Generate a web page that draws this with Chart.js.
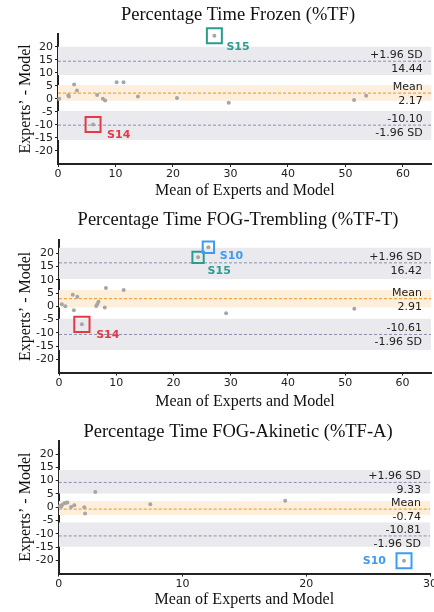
<!DOCTYPE html>
<html><head><meta charset="utf-8">
<script src="https://cdn.jsdelivr.net/npm/chart.js@4/dist/chart.umd.min.js"></script>
<style>
html,body{margin:0;padding:0;background:#fff;}
body{width:434px;height:612px;position:relative;overflow:hidden;}
.panel{position:absolute;left:0;width:434px;}
</style></head><body>
<div class="panel" style="top:0;height:202px"><canvas id="c1"></canvas></div>
<div class="panel" style="top:200px;height:212px"><canvas id="c2"></canvas></div>
<div class="panel" style="top:400px;height:212px"><canvas id="c3"></canvas></div>
<script>
// ---------- DATA ----------
const yRange = [-25, 25];
const yTicks = [-20, -15, -10, -5, 0, 5, 10, 15, 20];
const xTitle = 'Mean of Experts and Model';
const yTitle = 'Experts\u2019 - Model';

// Panel 1: %TF
const tfTitle = 'Percentage Time Frozen (%TF)';
const tfMean = [0.2, 1.8, 1.9, 2.8, 3.3, 6.1, 6.8, 7.8, 8.2, 10.2, 11.4, 13.9, 20.7, 27.2, 29.7, 51.5, 53.6];
const tfDiff = [0.0, 1.4, 0.9, 5.5, 3.2, -9.8, 1.5, 0.0, -0.6, 6.4, 6.4, 0.9, 0.3, 24.2, -1.5, -0.4, 1.2];
const tfStats = [14.44, 2.17, -10.10];        // +1.96 SD, mean, -1.96 SD
const tfUpperBand = [9.15, 20.0];
const tfMeanBand = [-0.7, 5.3];
const tfLowerBand = [-15.8, -4.66];
const tfXRange = [0, 65];
const tfXTicks = [0, 10, 20, 30, 40, 50, 60];
const tfHighlight = ['S15', 'S14'];
const tfHighlightIdx = [13, 5];

// Panel 2: %TF-T
const ttTitle = 'Percentage Time FOG-Trembling (%TF-T)';
const ttMean = [0.5, 1.1, 2.4, 2.6, 3.2, 4.0, 6.5, 6.7, 6.9, 8.0, 8.2, 11.3, 24.3, 26.1, 29.2, 51.6];
const ttDiff = [0.75, 0.0, 4.4, -1.5, 3.6, -6.8, 0.1, 0.9, 1.7, -0.4, 6.9, 6.2, 18.5, 22.3, -2.6, -0.9];
const ttStats = [16.42, 2.91, -10.61];
const ttUpperBand = [10.3, 22.1];
const ttMeanBand = [-0.4, 6.15];
const ttLowerBand = [-16.5, -4.7];
const ttXRange = [0, 65];
const ttXTicks = [0, 10, 20, 30, 40, 50, 60];
const ttHighlight = ['S10', 'S15', 'S14'];
const ttHighlightIdx = [13, 12, 5];

// Panel 3: %TF-A
const taTitle = 'Percentage Time FOG-Akinetic (%TF-A)';
const taMean = [0.1, 0.2, 0.27, 0.45, 0.6, 0.7, 1.0, 1.26, 2.07, 2.13, 2.96, 7.4, 18.3, 27.9];
const taDiff = [0.45, 0.2, 0.8, 1.5, 1.7, 1.8, 0.1, 0.7, 0.0, -2.4, 5.7, 1.1, 2.4, -20.2];
const taStats = [9.33, -0.74, -10.81];
const taUpperBand = [5.2, 14.0];
const taMeanBand = [-2.9, 2.3];
const taLowerBand = [-14.9, -5.8];
const taXRange = [0, 30];
const taXTicks = [0, 10, 20, 30];
const taHighlight = ['S10'];
const taHighlightIdx = [13];

// ---------- STYLE ----------
const C = {
  teal: '#2a9d8f', red: '#e63946', blue: '#3d9cf2',
  point: '#a6a6a6', greyBand: '#e9e9ee', meanBand: '#fdefdb',
  sdLine: '#8a91aa', meanLine: '#f4a53c', ink: '#222'
};
const hiStyle = [
  { S15: {color: C.teal, r: 10.6, dx: 12, dy: 11, align: 'left'},
    S14: {color: C.red, r: 10.6, dx: 14, dy: 11, align: 'left'} },
  { S10: {color: C.blue, r: 8, dx: 11.5, dy: 8.5, align: 'left'},
    S15: {color: C.teal, r: 8, dx: 9.5, dy: 13.5, align: 'left'},
    S14: {color: C.red, r: 10.8, dx: 14.3, dy: 11, align: 'left'} },
  { S10: {color: C.blue, r: 10.6, dx: -18, dy: 0, align: 'right'} }
];
const layouts = [
  {padTop: 33.7, padRight: 2.3, yWidth: 58, xHeight: 38, xTitlePad: 1.4, titleY: 19.7},
  {padTop: 40.1, padRight: 3, yWidth: 59, xHeight: 39.4, xTitlePad: 1.0, titleY: 24.7},
  {padTop: 40.8, padRight: 4, yWidth: 58.7, xHeight: 38.4, xTitlePad: 2.9, titleY: 36.7}
];

const panels = [
  {id: 'c1', title: tfTitle, mean: tfMean, diff: tfDiff, stats: tfStats, bands: [tfUpperBand, tfMeanBand, tfLowerBand], xRange: tfXRange, xTicks: tfXTicks, hi: tfHighlight, hiIdx: tfHighlightIdx},
  {id: 'c2', title: ttTitle, mean: ttMean, diff: ttDiff, stats: ttStats, bands: [ttUpperBand, ttMeanBand, ttLowerBand], xRange: ttXRange, xTicks: ttXTicks, hi: ttHighlight, hiIdx: ttHighlightIdx},
  {id: 'c3', title: taTitle, mean: taMean, diff: taDiff, stats: taStats, bands: [taUpperBand, taMeanBand, taLowerBand], xRange: taXRange, xTicks: taXTicks, hi: taHighlight, hiIdx: taHighlightIdx}
];

const annotPlugin = {
  id: 'ba',
  afterDatasetsDraw(chart, args, o) {
    const {ctx} = chart;
    const x = chart.scales.x, y = chart.scales.y;
    ctx.save();
    ctx.font = '11px "DejaVu Sans"';
    ctx.fillStyle = C.ink;
    ctx.textAlign = 'right';
    ctx.textBaseline = 'alphabetic';
    const xr = x.getPixelForValue(o.xMax) - 9;
    const [up, mn, lo] = o.stats;
    const pu = y.getPixelForValue(up), pm = y.getPixelForValue(mn), pl = y.getPixelForValue(lo);
    ctx.fillText('+1.96 SD', xr, pu - 3);
    ctx.fillText(up.toFixed(2), xr, pu + 11);
    ctx.fillText('Mean', xr, pm - 3);
    ctx.fillText(mn.toFixed(2), xr, pm + 11);
    ctx.fillText(lo.toFixed(2), xr, pl - 3);
    ctx.fillText('-1.96 SD', xr, pl + 11);
    ctx.font = 'bold 11px "DejaVu Sans"';
    ctx.textBaseline = 'middle';
    o.hl.forEach(h => {
      ctx.fillStyle = h.color;
      ctx.textAlign = h.align;
      ctx.fillText(h.label, x.getPixelForValue(h.x) + h.dx, y.getPixelForValue(h.y) + h.dy);
    });
    ctx.font = '18.5px "Liberation Serif"';
    ctx.fillStyle = '#111';
    ctx.textAlign = 'center';
    ctx.textBaseline = 'alphabetic';
    ctx.fillText(o.title, 238, o.titleY);
    ctx.restore();
  }
};

panels.forEach((p, i) => {
  const L = layouts[i];
  const pts = p.mean.map((m, k) => ({x: m, y: p.diff[k]}));
  const datasets = [];
  datasets.push({type: 'scatter', data: pts, pointRadius: 2, pointBackgroundColor: C.point, pointBorderWidth: 0, pointHoverRadius: 2, clip: false});
  const hl = [];
  p.hi.forEach((lab, k) => {
    const s = hiStyle[i][lab];
    const idx = p.hiIdx[k];
    const pt = {x: p.mean[idx], y: p.diff[idx]};
    hl.push(Object.assign({label: lab}, s, pt));
    datasets.push({type: 'scatter', data: [pt], pointStyle: 'rect', pointRadius: s.r, pointHoverRadius: s.r,
      pointBackgroundColor: 'rgba(0,0,0,0)', pointBorderColor: s.color, pointBorderWidth: 2, clip: false});
  });
  const hLine = (v, color, w) => ({type: 'line', data: [{x: p.xRange[0], y: v}, {x: p.xRange[1], y: v}],
    borderColor: color, borderWidth: w, borderDash: [3, 2], pointRadius: 0, fill: false});
  datasets.push(hLine(p.stats[0], C.sdLine, 1));
  datasets.push(hLine(p.stats[1], C.meanLine, 1.2));
  datasets.push(hLine(p.stats[2], C.sdLine, 1));
  p.bands.forEach((b, k) => {
    datasets.push({type: 'line', data: [{x: p.xRange[0], y: b[1]}, {x: p.xRange[1], y: b[1]}],
      borderWidth: 0, pointRadius: 0, fill: {value: b[0]},
      backgroundColor: k === 1 ? C.meanBand : C.greyBand});
  });

  new Chart(document.getElementById(p.id), {
    type: 'scatter',
    data: {datasets},
    options: {
      responsive: true, maintainAspectRatio: false, animation: false, events: [],
      layout: {autoPadding: false, padding: {top: L.padTop, left: 0, right: L.padRight, bottom: 0}},
      plugins: {legend: {display: false}, tooltip: {enabled: false}, title: {display: false},
        ba: {stats: p.stats, xMax: p.xRange[1], hl, title: p.title, titleY: L.titleY}},
      scales: {
        x: {
          type: 'linear', min: p.xRange[0], max: p.xRange[1],
          afterFit: s => { s.height = L.xHeight; s.paddingLeft = 0; s.paddingRight = 0; },
          border: {display: true, color: C.ink, width: 2},
          grid: {drawOnChartArea: false, drawTicks: true, tickLength: 3, color: C.ink, tickColor: C.ink},
          ticks: {stepSize: 10, autoSkip: false, maxRotation: 0, padding: 1, color: C.ink,
            font: {family: 'DejaVu Sans', size: 11},
            callback: v => p.xTicks.includes(v) ? String(v) : null},
          title: {display: true, text: xTitle, color: '#111', font: {family: 'Liberation Serif', size: 16},
            padding: {top: 0, bottom: L.xTitlePad}}
        },
        y: {
          type: 'linear', min: yRange[0], max: yRange[1],
          afterFit: s => { s.width = L.yWidth; s.paddingTop = 0; s.paddingBottom = 0; },
          border: {display: true, color: C.ink, width: 2},
          grid: {drawOnChartArea: false, drawTicks: true, tickLength: 3, color: C.ink, tickColor: C.ink},
          ticks: {stepSize: 5, autoSkip: false, padding: 2, color: C.ink,
            font: {family: 'DejaVu Sans', size: 11},
            callback: v => yTicks.includes(v) ? String(v) : null},
          title: {display: true, text: yTitle, color: '#111', font: {family: 'Liberation Serif', size: 16},
            padding: {top: 16, bottom: 0}}
        }
      }
    },
    plugins: [annotPlugin]
  });
});
</script>
</body></html>
